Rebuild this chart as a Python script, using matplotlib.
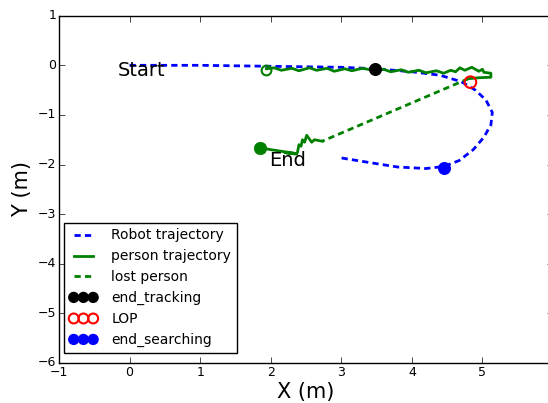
import matplotlib
matplotlib.use("Agg")
import matplotlib.pyplot as plt

plt.style.use("classic")

# robot path
robot_x = [0.0, 0.5, 1.0, 1.5, 2.0, 2.5, 3.0, 3.5, 4.0, 4.4, 4.7, 4.9, 5.05, 5.14, 5.12, 5.02, 4.87, 4.67, 4.45, 4.2, 3.8, 3.4, 2.97]
robot_y = [0.0, 0.0, 0.0, -0.01, -0.02, -0.03, -0.04, -0.07, -0.13, -0.2, -0.33, -0.5, -0.7, -0.95, -1.2, -1.45, -1.7, -1.92, -2.04, -2.08, -2.05, -1.96, -1.86]

# person tracked, first part
person1_x = [1.94, 2.05, 2.15, 2.3, 2.4, 2.55, 2.65, 2.8, 2.9, 3.05, 3.15, 3.3, 3.45, 3.6, 3.7, 3.85, 3.95, 4.1, 4.2, 4.35, 4.45, 4.55, 4.62, 4.68, 4.75, 4.85, 4.95, 5.0, 5.02, 5.12, 5.12, 4.95, 4.8]
person1_y = [-0.07, -0.05, -0.1, -0.06, -0.11, -0.05, -0.1, -0.06, -0.12, -0.07, -0.11, -0.06, -0.1, -0.08, -0.13, -0.09, -0.14, -0.1, -0.15, -0.11, -0.16, -0.1, -0.13, -0.05, -0.1, -0.04, -0.12, -0.08, -0.14, -0.16, -0.24, -0.25, -0.27]

# person tracked again, second part
person2_x = [2.73, 2.62, 2.58, 2.51, 2.48, 2.45, 2.43, 2.4, 2.38, 2.36, 2.2, 2.37, 2.0, 1.85]
person2_y = [-1.53, -1.5, -1.55, -1.41, -1.55, -1.5, -1.63, -1.6, -1.75, -1.79, -1.76, -1.78, -1.7, -1.66]

# lost person segment
lost_x = [4.8, 2.73]
lost_y = [-0.27, -1.53]

end_tracking = (3.48, -0.08)
lop = (4.83, -0.34)
end_searching = (4.45, -2.06)
person_start = (1.94, -0.09)
person_end = (1.85, -1.66)

dash = (4.5, 3)

fig = plt.figure(figsize=(5.48, 4.03), dpi=100, facecolor="white")
ax = fig.add_axes([59 / 548, 40 / 403, 494 / 548, 347.3 / 403])

ax.plot(robot_x, robot_y, "b--", lw=2, dashes=dash, label="Robot trajectory")
ax.plot(person1_x, person1_y, "g-", lw=2, label="person trajectory")
ax.plot(person2_x, person2_y, "g-", lw=2)
ax.plot(lost_x, lost_y, "g--", lw=2, dashes=dash, label="lost person")

ax.plot(*person_start, "o", mfc="none", mec="g", mew=1.5, ms=7)
ax.plot(*person_end, "go", mec="g", ms=9)
ax.scatter(*end_tracking, s=70, c="k", edgecolors="k", zorder=5, label="end_tracking")
ax.scatter(*lop, s=70, facecolors="none", edgecolors="r", linewidths=1.5, zorder=5, label="LOP")
ax.scatter(*end_searching, s=70, c="b", edgecolors="b", zorder=5, label="end_searching")

ax.text(-0.17, -0.1, "Start", fontsize=14, va="center", ha="left")
ax.text(1.98, -1.92, "End", fontsize=14, va="center", ha="left")

ax.set_xlim(-1, 6)
ax.set_ylim(-6, 1)
ax.set_xticks([-1, 0, 1, 2, 3, 4, 5])
ax.set_yticks([-6, -5, -4, -3, -2, -1, 0, 1])
ax.tick_params(labelsize=9, pad=2)
ax.set_xlabel("X (m)", fontsize=15, labelpad=2)
ax.set_ylabel("Y (m)", fontsize=15, labelpad=4)

ax.legend(loc="lower left", bbox_to_anchor=(5 / 494, 10 / 347), borderaxespad=0,
          fontsize=10, scatterpoints=3, scatteryoffsets=[0.5], numpoints=2,
          handlelength=2.0, handletextpad=1.0, markerscale=0.85)

fig.savefig("out.png", dpi=100, facecolor="white")
